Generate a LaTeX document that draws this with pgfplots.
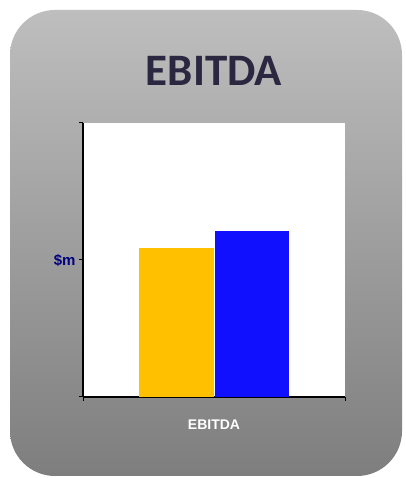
\documentclass[border=0pt]{standalone}
\usepackage{pgfplots}
\pgfplotsset{compat=1.18}
\usepackage{fontspec}
\setmainfont{Liberation Sans}
\newfontfamily\titlefont{Carlito}
\definecolor{orangeC}{RGB}{255,192,0}
\definecolor{blueC}{RGB}{16,16,255}
\definecolor{titleC}{RGB}{43,39,64}
\definecolor{navyC}{RGB}{0,0,128}
\definecolor{topG}{RGB}{190,190,190}
\definecolor{botG}{RGB}{126,126,126}
\begin{document}
\begin{tikzpicture}[x=1pt,y=1pt]
\useasboundingbox (0pt,0pt) rectangle (405pt,478pt);
\fill[white] (0pt,0pt) rectangle (405pt,478pt);
\shade[top color=topG, bottom color=botG, rounded corners=45pt] (10pt,2pt) rectangle (402pt,468pt);
\node[font=\titlefont\bfseries\fontsize{45}{45}\selectfont, text=titleC, anchor=base] at (214pt,392pt) {EBITDA};
\begin{axis}[
  at={(83pt,81pt)}, anchor=south west,
  width=262pt, height=274pt, scale only axis,
  xmin=0, xmax=1, ymin=0, ymax=2,
  axis x line*=bottom, axis y line*=left,
  axis line style={-, black},
  x axis line style={line width=2pt},
  y axis line style={line width=1.5pt},
  axis background/.style={fill=white},
  xtick={0,1}, xticklabels={},
  ytick={0,1,2}, yticklabels={,\$m,},
  tick align=outside, major tick length=4pt,
  tick style={black, line width=1pt},
  yticklabel style={font=\bfseries\fontsize{15}{15}\selectfont, text=navyC},
  xlabel={EBITDA},
  xlabel style={font=\bfseries\fontsize{14}{14}\selectfont, text=white, at={(axis description cs:0.5,0)}, anchor=center, yshift=-28pt},
  clip=false,
]
\addplot[ybar, bar width=0.286, bar shift=0pt, fill=orangeC, draw=none] coordinates {(0.357,1.088)};
\addplot[ybar, bar width=0.286, bar shift=0pt, fill=blueC, draw=none] coordinates {(0.645,1.212)};
\end{axis}
\end{tikzpicture}
\end{document}
